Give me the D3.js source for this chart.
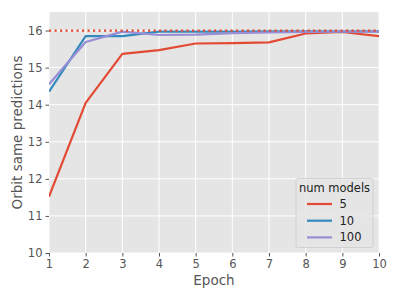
<!DOCTYPE html>
<html>
<head>
<meta charset="utf-8">
<script src="https://cdn.jsdelivr.net/npm/d3@7"></script>
<style>
  body { margin: 0; background: #fff; }
  svg { display: block; font-family: "DejaVu Sans", sans-serif; }
</style>
</head>
<body>
<svg width="399" height="299"></svg>
<script>
const epochs = [1, 2, 3, 4, 5, 6, 7, 8, 9, 10];
const models5 = [11.52, 14.05, 15.37, 15.47, 15.65, 15.66, 15.68, 15.92, 15.96, 15.85];
const models10 = [14.35, 15.85, 15.85, 15.97, 15.97, 15.97, 15.98, 15.98, 15.98, 15.98];
const models100 = [14.55, 15.69, 15.97, 15.88, 15.89, 15.93, 15.95, 15.96, 15.97, 15.97];
const seriesNames = ["5", "10", "100"];
const yTicks = [10, 11, 12, 13, 14, 15, 16];
const target = 16;

const colors = ["#E24A33", "#348ABD", "#988ED5"];
const series = [models5, models10, models100];

const margin = {left: 49, right: 20, top: 12, bottom: 46};
const width = 399, height = 299;
const svg = d3.select("svg");

const x = d3.scaleLinear().domain([1, 10]).range([margin.left, width - margin.right]);
const y = d3.scaleLinear().domain([10, 16.5]).range([height - margin.bottom, margin.top]);

// background
svg.append("rect")
  .attr("x", x(1)).attr("y", y(16.5))
  .attr("width", x(10) - x(1)).attr("height", y(10) - y(16.5))
  .attr("fill", "#E5E5E5");

// grid
svg.append("g").selectAll("line").data(epochs).join("line")
  .attr("x1", d => x(d)).attr("x2", d => x(d))
  .attr("y1", y(16.5)).attr("y2", y(10))
  .attr("stroke", "#fff").attr("stroke-width", 1);
svg.append("g").selectAll("line").data(yTicks).join("line")
  .attr("x1", x(1)).attr("x2", x(10))
  .attr("y1", d => y(d)).attr("y2", d => y(d))
  .attr("stroke", "#fff").attr("stroke-width", 1);

// axes
const xAxis = svg.append("g")
  .attr("transform", `translate(0,${y(10)})`)
  .call(d3.axisBottom(x).tickValues(epochs).tickFormat(d3.format("d")).tickSize(3.5).tickPadding(3));
const yAxis = svg.append("g")
  .attr("transform", `translate(${x(1)},0)`)
  .call(d3.axisLeft(y).tickValues(yTicks).tickFormat(d3.format("d")).tickSize(3.5).tickPadding(3));
[xAxis, yAxis].forEach(g => {
  g.select(".domain").remove();
  g.selectAll("line").attr("stroke", "#555");
  g.selectAll("text").attr("fill", "#555").style("font-size", "11.5px")
    .style("font-family", "DejaVu Sans");
});

// labels
svg.append("text").attr("x", (x(1) + x(10)) / 2).attr("y", 285)
  .attr("text-anchor", "middle").attr("fill", "#555").style("font-size", "13.5px")
  .text("Epoch");
svg.append("text")
  .attr("transform", `translate(22,${(y(10) + y(16.5)) / 2}) rotate(-90)`)
  .attr("text-anchor", "middle").attr("fill", "#555").style("font-size", "13.5px")
  .text("Orbit same predictions");

// clip
svg.append("clipPath").attr("id", "clip").append("rect")
  .attr("x", x(1)).attr("y", y(16.5))
  .attr("width", x(10) - x(1)).attr("height", y(10) - y(16.5));

const line = d3.line().x((d, i) => x(epochs[i])).y(d => y(d));
const plot = svg.append("g").attr("clip-path", "url(#clip)");

series.forEach((s, i) => {
  plot.append("path").datum(s)
    .attr("fill", "none")
    .attr("stroke", colors[i])
    .attr("stroke-width", 2.2)
    .attr("stroke-linejoin", "round")
    .attr("d", line);
});

plot.append("line")
  .attr("x1", x(1)).attr("x2", x(10))
  .attr("y1", y(target)).attr("y2", y(target))
  .attr("stroke", "#E24A33").attr("stroke-width", 2.2)
  .attr("stroke-dasharray", "2.2,3.3");

// legend
const lg = svg.append("g");
lg.append("rect").attr("x", 296).attr("y", 178.5).attr("width", 77).attr("height", 69)
  .attr("rx", 2).attr("fill", "#E5E5E5").attr("fill-opacity", 0.8)
  .attr("stroke", "#cccccc").attr("stroke-width", 0.8);
lg.append("text").attr("x", 334.5).attr("y", 192).attr("text-anchor", "middle")
  .style("font-size", "11.5px").attr("fill", "#222").text("num models");
seriesNames.forEach((n, i) => {
  const yy = 204 + i * 16.7;
  lg.append("line").attr("x1", 307).attr("x2", 332).attr("y1", yy).attr("y2", yy)
    .attr("stroke", colors[i]).attr("stroke-width", 2.2);
  lg.append("text").attr("x", 339.5).attr("y", yy + 4).style("font-size", "11.5px")
    .attr("fill", "#222").text(n);
});
</script>
</body>
</html>
